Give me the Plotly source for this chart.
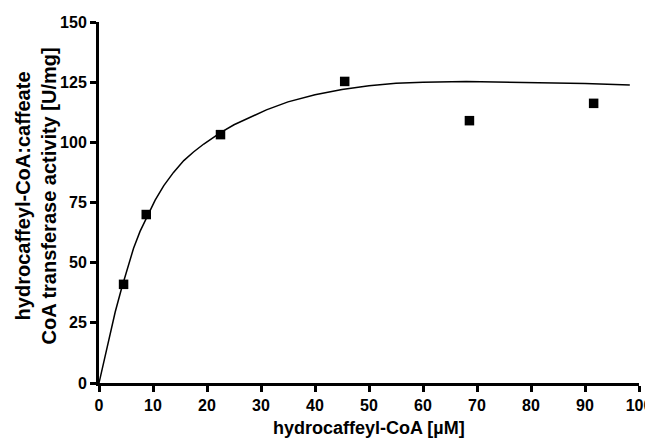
import plotly.graph_objects as go

# measured data
conc = [4.55, 8.75, 22.5, 45.5, 68.6, 91.6]
activity = [41.0, 70.0, 103.2, 125.3, 109.0, 116.2]

# fitted curve
fit_x = [0, 1, 2, 3, 4.2, 5.3, 6.4, 7.6, 8.9, 10.4, 12, 13.8, 15.7, 17.5, 19.4, 22.5,
         25, 27.5, 31, 35, 40, 45, 50, 55, 60, 68, 75, 80, 90, 98.3]
fit_y = [0, 10, 20, 29.5, 39.5, 48, 56, 63, 69, 76, 82, 87.5, 92.4, 96, 99.3, 104,
         107.3, 110, 113.5, 116.8, 119.8, 122, 123.5, 124.5, 125, 125.3, 125.1, 124.9, 124.4, 123.8]

x_ticks = [0, 10, 20, 30, 40, 50, 60, 70, 80, 90, 100]
y_ticks = [0, 25, 50, 75, 100, 125, 150]

font_family = "Liberation Sans, Arial, sans-serif"
tickfont = dict(family=font_family, size=16, color="black", weight="bold")
xtitlefont = dict(family=font_family, size=18, color="black", weight="bold")
ytitlefont = dict(family=font_family, size=20, color="black", weight="bold")

fig = go.Figure()
fig.add_trace(go.Scatter(x=fit_x, y=fit_y, mode="lines",
                         line=dict(color="black", width=1.5),
                         hoverinfo="skip", showlegend=False))
fig.add_trace(go.Scatter(x=conc, y=activity, mode="markers",
                         marker=dict(symbol="square", size=9.5, color="black"),
                         showlegend=False))

axis_common = dict(showgrid=False, zeroline=False, showline=True, linecolor="black",
                   linewidth=3, ticks="outside", ticklen=6, tickwidth=2.5, tickcolor="black",
                   automargin=False, tickfont=tickfont, ticklabeloverflow="allow")

# page body has an 8px margin, so the figure is sized/offset to compensate
fig.update_layout(
    width=645, height=432,
    margin=dict(l=91, r=14, t=14, b=57),
    paper_bgcolor="white", plot_bgcolor="white",
    font=dict(family=font_family, color="black"),
    xaxis=dict(range=[0, 100], tickvals=x_ticks, ticktext=[str(v) for v in x_ticks], **axis_common),
    yaxis=dict(range=[0, 150], tickvals=y_ticks, ticktext=[str(v) for v in y_ticks], **axis_common),
    annotations=[
        dict(text="hydrocaffeyl-CoA [µM]", xref="paper", yref="paper", x=0.5, y=0,
             xanchor="center", yanchor="middle", xshift=0, yshift=-45,
             showarrow=False, font=xtitlefont),
        dict(text="hydrocaffeyl-CoA:caffeate<br>CoA transferase activity [U/mg]",
             xref="paper", yref="paper", x=0, y=0.5, xanchor="center", yanchor="middle",
             xshift=-64, yshift=6, textangle=-90, showarrow=False, font=ytitlefont),
    ],
)

fig.write_html("out.html")
